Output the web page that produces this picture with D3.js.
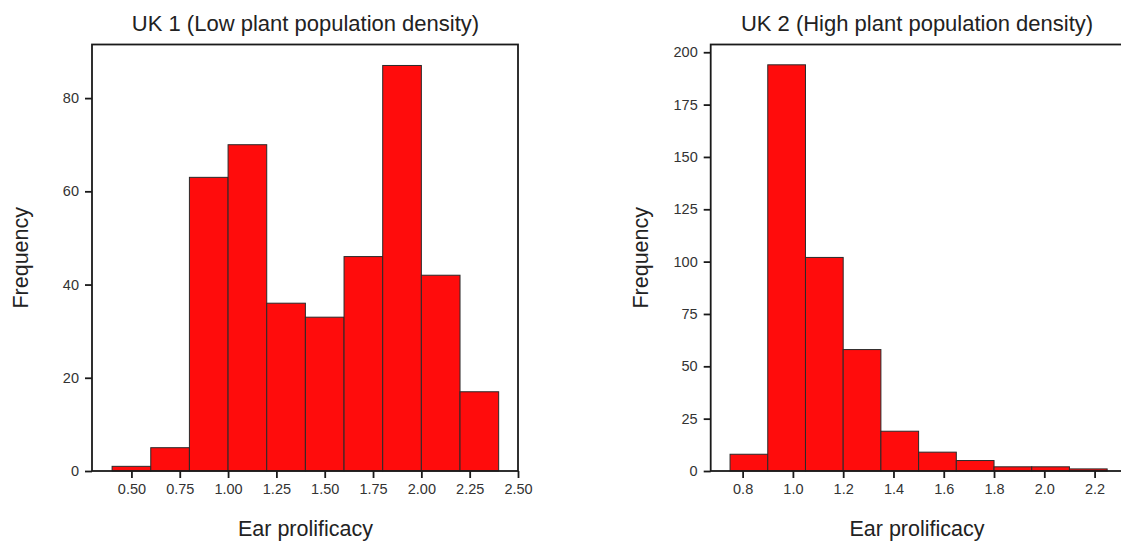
<!DOCTYPE html>
<html>
<head>
<meta charset="utf-8">
<script src="https://cdn.jsdelivr.net/npm/d3@7"></script>
<style>
  body { margin: 0; background: #fff; }
  svg { display: block; font-family: "Liberation Sans", Arial, sans-serif; }
</style>
</head>
<body>
<svg id="chart" width="1121" height="548"></svg>
<script>
// ---- data ----
// UK 1: bins of width 0.2 starting at 0.4
var uk1Edges = [0.4, 0.6, 0.8, 1.0, 1.2, 1.4, 1.6, 1.8, 2.0, 2.2, 2.4];
var uk1Counts = [1, 5, 63, 70, 36, 33, 46, 87, 42, 17];
var uk1XTicks = [0.5, 0.75, 1.0, 1.25, 1.5, 1.75, 2.0, 2.25, 2.5];
var uk1YTicks = [0, 20, 40, 60, 80];

// UK 2: bins of width 0.15 starting at 0.75
var uk2Edges = [0.75, 0.9, 1.05, 1.2, 1.35, 1.5, 1.65, 1.8, 1.95, 2.1, 2.25];
var uk2Counts = [8, 194, 102, 58, 19, 9, 5, 2, 2, 1];
var uk2XTicks = [0.8, 1.0, 1.2, 1.4, 1.6, 1.8, 2.0, 2.2];
var uk2YTicks = [0, 25, 50, 75, 100, 125, 150, 175, 200];

var svg = d3.select('#chart');

//draws one histogram panel
function drawPanel(opts) {
    var w = opts.width, h = opts.height;
    var g = svg.append("g")
        .attr("transform", "translate(" + opts.left + "," + opts.top + ")");

    var x = d3.scaleLinear().domain(opts.xDomain).range([0, w]);
    var y = d3.scaleLinear().domain(opts.yDomain).range([h, 0]);

    var bins = opts.counts.map(function(c, i) {
        return { x0: opts.edges[i], x1: opts.edges[i + 1], n: c };
    });

    g.selectAll("rect.bar")
        .data(bins)
        .enter()
        .append("rect")
        .attr("class", "bar")
        .attr("x", function(d) { return x(d.x0); })
        .attr("width", function(d) { return x(d.x1) - x(d.x0); })
        .attr("y", function(d) { return y(d.n); })
        .attr("height", function(d) { return h - y(d.n); })
        .attr("fill", "#ff0c0c")
        .attr("stroke", "#2a2a2a")
        .attr("stroke-width", 1);

    //frame
    g.append("rect")
        .attr("x", 0).attr("y", 0)
        .attr("width", w).attr("height", h)
        .attr("fill", "none")
        .attr("stroke", "#1a1a1a")
        .attr("stroke-width", 1.8);

    var xAxis = g.append("g")
        .attr("transform", "translate(0," + h + ")")
        .call(d3.axisBottom(x).tickValues(opts.xTicks).tickFormat(d3.format(opts.xFmt)).tickSize(7).tickPadding(6));
    xAxis.select(".domain").remove();

    var yAxis = g.append("g")
        .call(d3.axisLeft(y).tickValues(opts.yTicks).tickSize(7).tickPadding(6));
    yAxis.select(".domain").remove();

    [xAxis, yAxis].forEach(function(a) {
        a.selectAll(".tick line").attr("stroke", "#1a1a1a").attr("stroke-width", 1.8);
        a.selectAll(".tick text")
            .attr("fill", "#333")
            .style("font-size", "14.5px")
            .style("font-family", "'Liberation Sans', Arial, sans-serif");
    });

    //title
    g.append("text")
        .attr("x", opts.titleX - opts.left)
        .attr("y", -13.5)
        .attr("text-anchor", "middle")
        .attr("fill", "#222")
        .style("font-size", "22px")
        .text(opts.title);

    //x label
    g.append("text")
        .attr("x", opts.titleX - opts.left)
        .attr("y", h + 65)
        .attr("text-anchor", "middle")
        .attr("fill", "#222")
        .style("font-size", "21.5px")
        .text("Ear prolificacy");

    //y label
    g.append("text")
        .attr("transform", "translate(" + (opts.yLabelX - opts.left) + "," + (h / 2) + ") rotate(-90)")
        .attr("text-anchor", "middle")
        .attr("fill", "#222")
        .style("font-size", "21.5px")
        .text("Frequency");
}

drawPanel({
    left: 92, top: 44.5, width: 426, height: 426.5,
    xDomain: [0.296, 2.5], yDomain: [0, 91.5],
    edges: uk1Edges, counts: uk1Counts,
    xTicks: uk1XTicks, yTicks: uk1YTicks, xFmt: ".2f",
    title: "UK 1 (Low plant population density)", titleX: 305.5, yLabelX: 28
});

drawPanel({
    left: 710.7, top: 44.5, width: 412.8, height: 426.5,
    xDomain: [0.673, 2.315], yDomain: [0, 203.7],
    edges: uk2Edges, counts: uk2Counts,
    xTicks: uk2XTicks, yTicks: uk2YTicks, xFmt: ".1f",
    title: "UK 2 (High plant population density)", titleX: 917, yLabelX: 648
});
</script>
</body>
</html>
